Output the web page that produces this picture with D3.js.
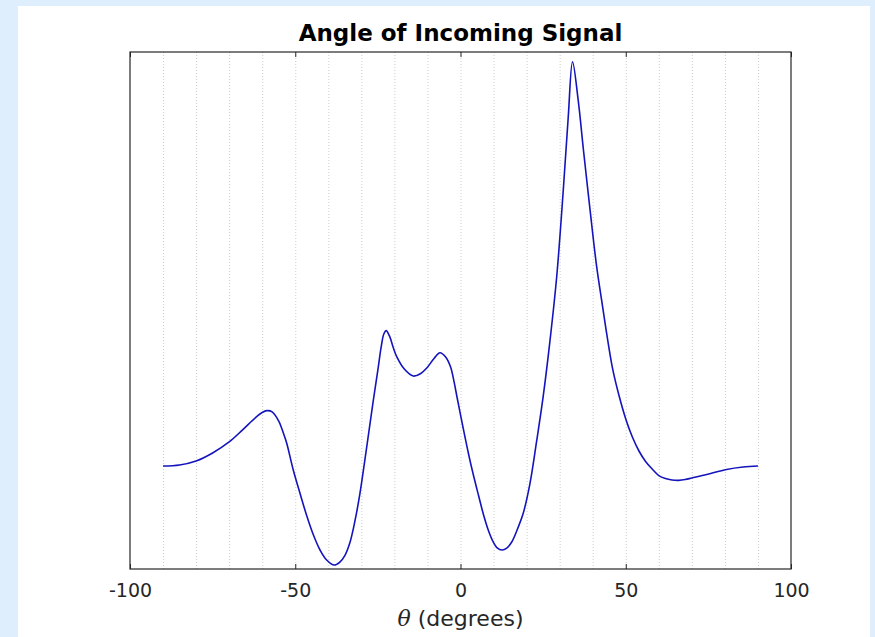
<!DOCTYPE html>
<html>
<head>
<meta charset="utf-8">
<script src="https://cdn.jsdelivr.net/npm/d3@7"></script>
<style>
  html, body { margin: 0; padding: 0; background: #dfeefc; }
  svg { display: block; }
</style>
</head>
<body>
<svg></svg>
<script>
// data (theta in degrees, power in dB)
const theta = [-90, -85, -80, -75, -70, -66, -62, -60, -58.6, -57, -55, -53.6, -52.6, -50.6, -48.5,
  -46.5, -44.5, -42.5, -40.5, -38.2, -36.5, -35, -33.5, -32, -30.5, -28.5, -26.5, -25, -24, -23.2,
  -22.5, -21.5, -20.3, -19.3, -17, -14.3, -12, -10.2, -8, -6.2, -4.5, -3, -2, -1, 0.8, 2.5, 3.9,
  5.5, 6.9, 8.5, 9.9, 11, 12.6, 14, 15.5, 17, 19, 21, 23, 25, 27, 29.1, 31.1, 32.6, 33.9, 35.6, 37.2,
  39.2, 41.2, 42.7, 44.2, 46.1, 48, 50, 52, 54, 56, 58, 60, 62, 64, 66, 68, 70, 74.5, 80.5, 85.5, 90]
const power = [-32.03, -31.95, -31.64, -31.02, -30.17, -29.25, -28.28, -27.89, -27.75, -27.84, -28.55, -29.48, -30.25, -32.34, -34.2,
  -35.9, -37.37, -38.53, -39.3, -39.69, -39.46, -38.96, -37.99, -36.36, -34.27, -30.79, -27.16, -24.6, -22.82, -21.82,
  -21.56, -21.97, -22.9, -23.57, -24.53, -25.07, -24.87, -24.45, -23.71, -23.27, -23.6, -24.37, -25.45, -26.77, -29.09, -31.18, -32.73,
  -34.35, -35.74, -37.06, -37.91, -38.34, -38.53, -38.38, -37.91, -37.06, -35.67, -33.42, -30.17, -26.69, -22.51, -17.41, -10.68, -5.03, -0.75, -3.71, -7.58,
  -12.22, -16.61, -19.19, -21.74, -24.6, -26.62, -28.39, -29.79, -30.87, -31.68, -32.26, -32.77, -33.0, -33.11, -33.14, -33.08, -32.96, -32.69, -32.3, -32.11, -32.03]
const xTicks = [-100, -50, 0, 50, 100]
const gridTicks = [-90, -80, -70, -60, -50, -40, -30, -20, -10, 0, 10, 20, 30, 40, 50, 60, 70, 80, 90]

const width = 875
const height = 637
const plotLeft = 130, plotRight = 791, plotTop = 52, plotBottom = 569
const svg = d3.select('svg').attr('width', width).attr('height', height)

// white figure area
svg.append('rect')
    .attr('x', 18).attr('y', 6)
    .attr('width', 852).attr('height', height - 6)
    .attr('fill', '#ffffff')

const xScale = d3.scaleLinear().domain([-100, 100]).range([plotLeft, plotRight])
const yScale = d3.scaleLinear().domain([-40, 0]).range([plotBottom, plotTop])

// dotted grid
svg.append('g')
    .selectAll('line')
    .data(gridTicks)
    .enter()
    .append('line')
    .attr('x1', d => xScale(d) + 0.5).attr('x2', d => xScale(d) + 0.5)
    .attr('y1', plotTop).attr('y2', plotBottom)
    .attr('stroke', '#cccccc')
    .attr('stroke-width', 1)
    .attr('stroke-dasharray', '1,2')

// curve
const points = theta.map((t, i) => [t, power[i]])
const line = d3.line()
    .x(d => xScale(d[0]))
    .y(d => yScale(d[1]))
    .curve(d3.curveCatmullRom.alpha(0.5))

svg.append('path')
    .datum(points)
    .attr('d', line)
    .attr('fill', 'none')
    .attr('stroke', '#1414bc')
    .attr('stroke-width', 1.6)

// bottom axis with inward ticks
const xAxis = d3.axisBottom(xScale)
    .tickValues(xTicks)
    .tickFormat(d => String(d))
    .tickSizeInner(-5).tickSizeOuter(0).tickPadding(15)
const gx = svg.append('g')
    .attr('id', 'x-axis')
    .attr('transform', 'translate(0,' + plotBottom + ')')
    .call(xAxis)
gx.select('.domain').remove()
gx.selectAll('.tick line').attr('stroke', '#262626')
gx.selectAll('.tick text')
    .attr('fill', '#262626')
    .style('font-family', 'DejaVu Sans')
    .style('font-size', '19px')

// top ticks
const xAxisTop = d3.axisTop(xScale).tickValues(xTicks).tickSizeInner(-5).tickSizeOuter(0).tickFormat('')
const gt = svg.append('g')
    .attr('transform', 'translate(0,' + plotTop + ')')
    .call(xAxisTop)
gt.select('.domain').remove()
gt.selectAll('.tick line').attr('stroke', '#262626')

// box
svg.append('rect')
    .attr('x', plotLeft).attr('y', plotTop)
    .attr('width', plotRight - plotLeft).attr('height', plotBottom - plotTop)
    .attr('fill', 'none')
    .attr('stroke', '#262626')
    .attr('stroke-width', 1.2)

// title
svg.append('text')
    .attr('x', (plotLeft + plotRight) / 2)
    .attr('y', 41)
    .attr('text-anchor', 'middle')
    .style('font-family', 'DejaVu Sans')
    .style('font-weight', 'bold')
    .style('font-size', '23px')
    .attr('fill', '#000')
    .text('Angle of Incoming Signal')

// x label
const xl = svg.append('text')
    .attr('x', (plotLeft + plotRight) / 2)
    .attr('y', 626)
    .attr('text-anchor', 'middle')
    .style('font-family', 'DejaVu Sans')
    .style('font-size', '22px')
    .attr('fill', '#262626')
xl.append('tspan').style('font-style', 'italic').style('font-family', 'DejaVu Serif').text('θ')
xl.append('tspan').text(' (degrees)')
</script>
</body>
</html>
